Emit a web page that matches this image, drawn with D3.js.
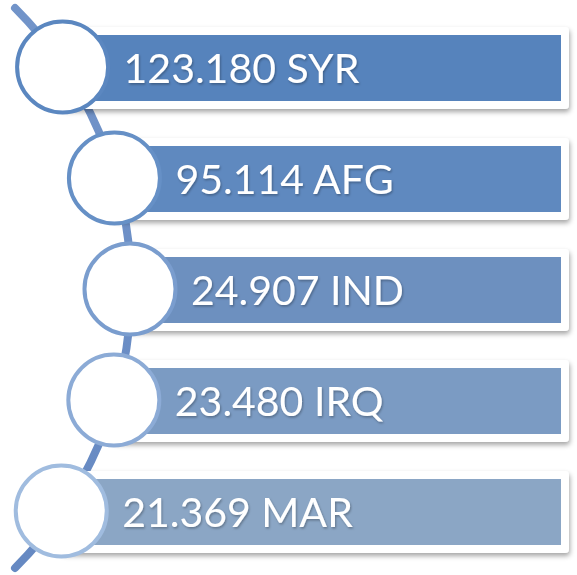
<!DOCTYPE html>
<html>
<head>
<meta charset="utf-8">
<script src="https://cdn.jsdelivr.net/npm/d3@7"></script>
<style>
  body { margin: 0; background: #fff; }
</style>
</head>
<body>
<svg id="chart" width="577" height="575"></svg>
<script>
var codes = ["SYR", "AFG", "IND", "IRQ", "MAR"];
var values = [123180, 95114, 24907, 23480, 21369];
var barColors = ["#5683bc", "#5f89bf", "#6d90bf", "#7b9bc3", "#8ba6c5"];
var ringColors = ["#5b87c0", "#6690c6", "#7a9dce", "#8cabd6", "#a0bcdf"];

var svg = d3.select("#chart");
var fmt = d3.formatLocale({ decimal: ",", thousands: ".", grouping: [3], currency: ["", ""] }).format(",d");

// rows spaced evenly down the page
var y = d3.scalePoint()
    .domain(codes)
    .range([67, 511]);

// the spine is a quarter circle, bulging to the right
var arcCx = -265, arcCy = 288, arcR = 396;
function spineX(cy) {
    var dy = cy - arcCy;
    return arcCx + Math.sqrt(arcR * arcR - dy * dy);
}

var rows = codes.map((c, i) => ({ code: c, value: values[i], i: i, cy: y(c), cx: spineX(y(c)) - 1 }));

var defs = svg.append("defs");
var shadow = defs.append("filter")
    .attr("id", "frameShadow")
    .attr("x", "-5%").attr("y", "-20%")
    .attr("width", "115%").attr("height", "150%");
shadow.append("feDropShadow")
    .attr("dx", 1).attr("dy", 3)
    .attr("stdDeviation", 2.5)
    .attr("flood-color", "#000")
    .attr("flood-opacity", 0.35);

var textShadow = defs.append("filter")
    .attr("id", "textShadow")
    .attr("x", "-5%").attr("y", "-20%")
    .attr("width", "115%").attr("height", "150%");
textShadow.append("feDropShadow")
    .attr("dx", 1).attr("dy", 1.5)
    .attr("stdDeviation", 1.2)
    .attr("flood-color", "#000")
    .attr("flood-opacity", 0.3);

var spineGrad = defs.append("linearGradient")
    .attr("id", "spineGrad")
    .attr("x1", 0).attr("y1", 0).attr("x2", 0).attr("y2", 1);
spineGrad.append("stop").attr("offset", "0%").attr("stop-color", "#7294c9");
spineGrad.append("stop").attr("offset", "100%").attr("stop-color", "#6689c2");

var p = d3.path();
p.arc(arcCx, arcCy, arcR, -Math.PI / 4, Math.PI / 4);
svg.append("path")
    .attr("d", p.toString())
    .attr("fill", "none")
    .attr("stroke", "url(#spineGrad)")
    .attr("stroke-width", 8)
    .attr("stroke-linecap", "round");

var barRight = 561, pad = 8, barH = 66;

var g = svg.selectAll("g.row")
    .data(rows)
    .enter().append("g")
    .attr("class", "row");

g.append("rect")
    .attr("x", d => d.cx)
    .attr("y", d => d.cy - barH / 2 - pad + 1)
    .attr("width", d => barRight + pad - d.cx)
    .attr("height", barH + pad * 2)
    .attr("rx", 4)
    .attr("fill", "#fff")
    .attr("filter", "url(#frameShadow)");

g.append("rect")
    .attr("x", d => d.cx)
    .attr("y", d => d.cy - barH / 2 + 1)
    .attr("width", d => barRight - d.cx)
    .attr("height", barH)
    .attr("fill", d => barColors[d.i]);

g.append("circle")
    .attr("cx", d => d.cx)
    .attr("cy", d => d.cy)
    .attr("r", 45.5)
    .attr("fill", "#fff")
    .attr("stroke", d => ringColors[d.i])
    .attr("stroke-width", 4);

g.append("text")
    .attr("x", d => d.cx + 61)
    .attr("y", d => d.cy + 16)
    .attr("fill", "#fff")
    .attr("font-family", "Lato, 'Open Sans', sans-serif")
    .attr("font-size", 41)
    .attr("filter", "url(#textShadow)")
    .text(d => fmt(d.value) + " " + d.code);
</script>
</body>
</html>
